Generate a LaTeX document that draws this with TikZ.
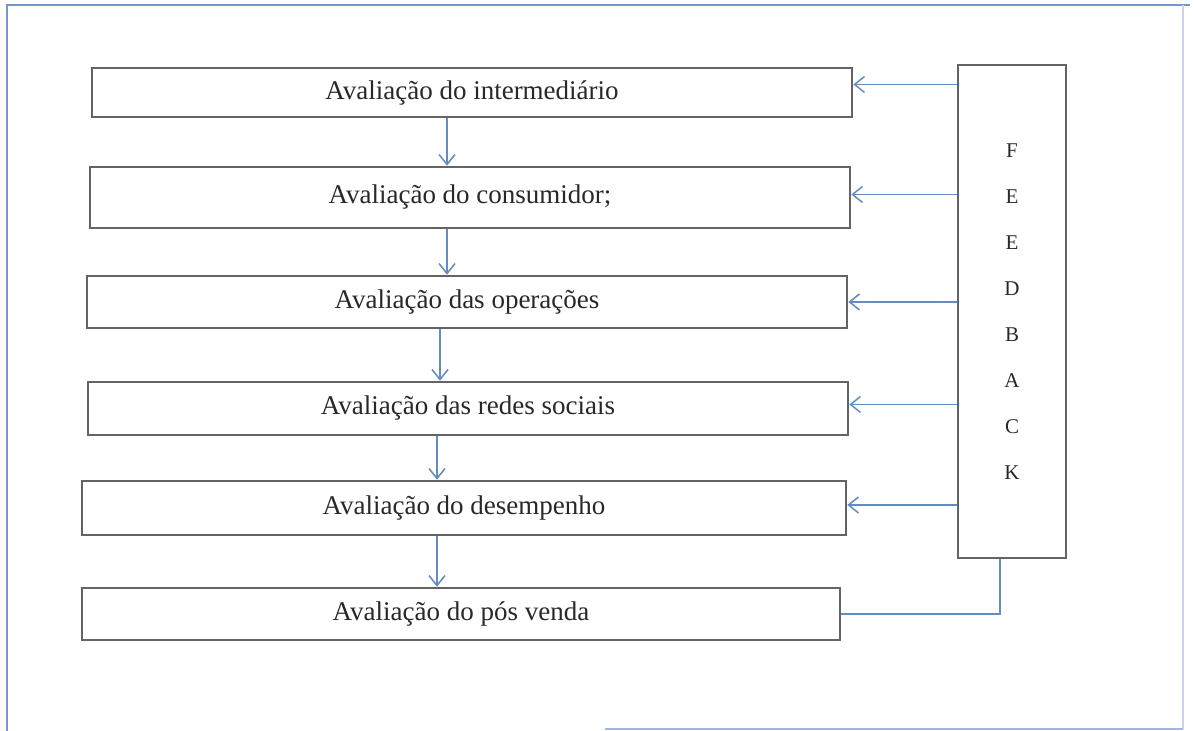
\documentclass[tikz,border=0pt]{standalone}
\usepackage{fontspec}
\setmainfont{Liberation Serif}
\usetikzlibrary{positioning,calc,arrows,arrows.meta}

\definecolor{boxgray}{RGB}{100,100,100}
\definecolor{textgray}{RGB}{40,40,40}
\definecolor{linkblue}{RGB}{100,140,190}
\definecolor{frameblue}{RGB}{120,150,205}

\tikzset{
  stage/.style={draw=boxgray, line width=1.3pt, minimum width=380pt, minimum height=26pt,
    text=textgray, font=\fontsize{13.5}{16}\selectfont},
  link/.style={draw=linkblue, line width=0.75pt, -{Straight Barb[length=5pt,width=8pt]}},
  plain/.style={draw=linkblue, line width=0.75pt},
}

\begin{document}
\begin{tikzpicture}[x=0.5pt, y=-0.5pt]
\useasboundingbox (0,0) rectangle (1194,731);
% frame of the page
\draw[frameblue, line width=1pt] (7,731) -- (7,5) -- (1190,5);
\draw[frameblue!40, line width=0.6pt] (1183,5) -- (1183,729);
\draw[frameblue!70, line width=0.8pt] (605,729) -- (1183,729);

\node[stage, minimum height=24.5pt] (intermed) at (472,92.5) {Avaliação do intermediário};
\node[stage, below of=intermed, node distance=52.5pt, xshift=-1pt, minimum height=30.5pt] (consum) {Avaliação do consumidor;};
\node[stage, below of=consum, node distance=52.25pt, xshift=-1.5pt] (oper) {Avaliação das operações};
\node[stage, below of=oper, node distance=53.25pt, xshift=0.5pt, minimum height=26.5pt] (redes) {Avaliação das redes sociais};
\node[stage, below of=redes, node distance=49.75pt, xshift=-2pt, minimum width=382pt, minimum height=27pt] (desemp) {Avaliação do desempenho};
\node[stage, below of=desemp, node distance=53pt, xshift=-1.5pt, minimum width=379pt] (posvenda) {Avaliação do pós venda};

\node[draw=boxgray, line width=1.3pt, minimum width=54pt, minimum height=246.5pt, align=center,
  text=textgray, font=\fontsize{10.5}{23}\selectfont] (fb) at (1012,311.5) {F\\E\\E\\D\\B\\A\\C\\K};

\draw[link] ([xshift=-12.5pt]intermed.south) -- ([xshift=-12.5pt]intermed.south |- consum.north);
\draw[link] ([xshift=-11.5pt]consum.south) -- ([xshift=-11.5pt]consum.south |- oper.north);
\draw[link] ([xshift=-13.5pt]oper.south) -- ([xshift=-13.5pt]oper.south |- redes.north);
\draw[link] ([xshift=-15.5pt]redes.south) -- ([xshift=-15.5pt]redes.south |- desemp.north);
\draw[link] ([xshift=-13.5pt]desemp.south) -- ([xshift=-13.5pt]desemp.south |- posvenda.north);

\draw[link] ([yshift=4pt]fb.west |- intermed.east) -- ([yshift=4pt]intermed.east);
\draw[link] ([yshift=1.5pt]fb.west |- consum.east) -- ([yshift=1.5pt]consum.east);
\draw[link] (fb.west |- oper.east) -- (oper.east);
\draw[link] ([yshift=2pt]fb.west |- redes.east) -- ([yshift=2pt]redes.east);
\draw[link] ([yshift=1.5pt]fb.west |- desemp.east) -- ([yshift=1.5pt]desemp.east);
\draw[plain] (posvenda.east) -| ([xshift=-6pt]fb.south);
\end{tikzpicture}
\end{document}
